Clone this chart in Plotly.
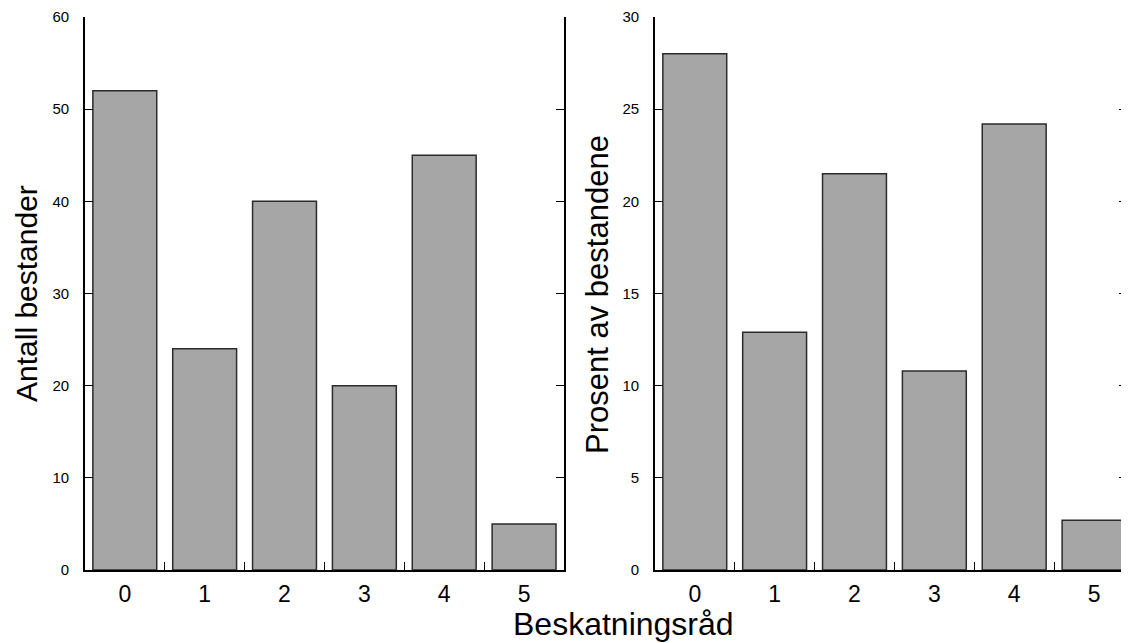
import plotly.graph_objects as go
from plotly.subplots import make_subplots

categories = [0, 1, 2, 3, 4, 5]
antall = [52, 24, 40, 20, 45, 5]
prosent = [28.0, 12.9, 21.5, 10.8, 24.2, 2.7]
left_yticks = [0, 10, 20, 30, 40, 50, 60]
right_yticks = [0, 5, 10, 15, 20, 25, 30]
x_title = "Beskatningsråd"
left_ytitle = "Antall bestander"
right_ytitle = "Prosent av bestandene"

# page body has an 8px margin, so work in coordinates shifted by 8px
OFF = 8
W, H = 1129 - OFF, 643 - OFF
FONT = "Arial, Liberation Sans, sans-serif"

fig = make_subplots(rows=1, cols=2)
bar_style = dict(marker=dict(color="#a6a6a6", line=dict(color="#2b2b2b", width=1.5)),
                 width=0.8, showlegend=False)
fig.add_trace(go.Bar(x=categories, y=antall, **bar_style), row=1, col=1)
fig.add_trace(go.Bar(x=categories, y=prosent, **bar_style), row=1, col=2)

l1, r1 = 85 - OFF, 565 - OFF
l2, r2 = 656 - OFF, W
top, bottom = 15 - OFF, 570 - OFF

xcommon = dict(tickmode="array", tickvals=categories, ticktext=[str(c) for c in categories],
               ticks="", showline=True, linecolor="black", linewidth=1.5, showgrid=False,
               zeroline=False, tickfont=dict(size=23, color="black", family=FONT),
               ticklabelstandoff=3,
               minor=dict(tickvals=[0.5, 1.5, 2.5, 3.5, 4.5], ticks="inside", ticklen=8,
                          tickcolor="black", tickwidth=1, showgrid=False))
ycommon = dict(showline=True, linecolor="black", linewidth=1.5, mirror="ticks", ticks="inside",
               ticklen=8, tickcolor="black", tickwidth=1.2, showgrid=False, zeroline=False,
               tickfont=dict(size=15, color="black", family=FONT), ticklabelstandoff=11,
               ticklabeloverflow="allow")

fig.update_layout(
    width=W, height=H,
    margin=dict(l=0, r=0, t=top, b=H - bottom),
    paper_bgcolor="white", plot_bgcolor="white",
    bargap=0.2,
    xaxis=dict(domain=[l1 / W, r1 / W], range=[-0.5, 5.5], **xcommon),
    xaxis2=dict(domain=[l2 / W, 1.0], range=[-0.5, -0.5 + (r2 - l2) / 80.0], **xcommon),
    yaxis=dict(range=[0, 60], tickvals=left_yticks, **ycommon),
    yaxis2=dict(range=[0, 30], tickvals=right_yticks, **ycommon),
    font=dict(family=FONT, color="black"),
)

def px_x(x):
    return (x - OFF) / W

def px_y(y):
    return (bottom - (y - OFF)) / (bottom - top)

fig.add_annotation(text=left_ytitle, xref="paper", yref="paper", x=px_x(26), y=px_y(292),
                   textangle=-90, showarrow=False, font=dict(size=30, family=FONT, color="black"),
                   xanchor="center", yanchor="middle")
fig.add_annotation(text=right_ytitle, xref="paper", yref="paper", x=px_x(599), y=px_y(293),
                   textangle=-90, showarrow=False, font=dict(size=31, family=FONT, color="black"),
                   xanchor="center", yanchor="middle")
fig.add_annotation(text=x_title, xref="paper", yref="paper", x=px_x(625), y=px_y(624),
                   showarrow=False, font=dict(size=32, family=FONT, color="black"),
                   xanchor="center", yanchor="middle")

fig.write_html("out.html")
